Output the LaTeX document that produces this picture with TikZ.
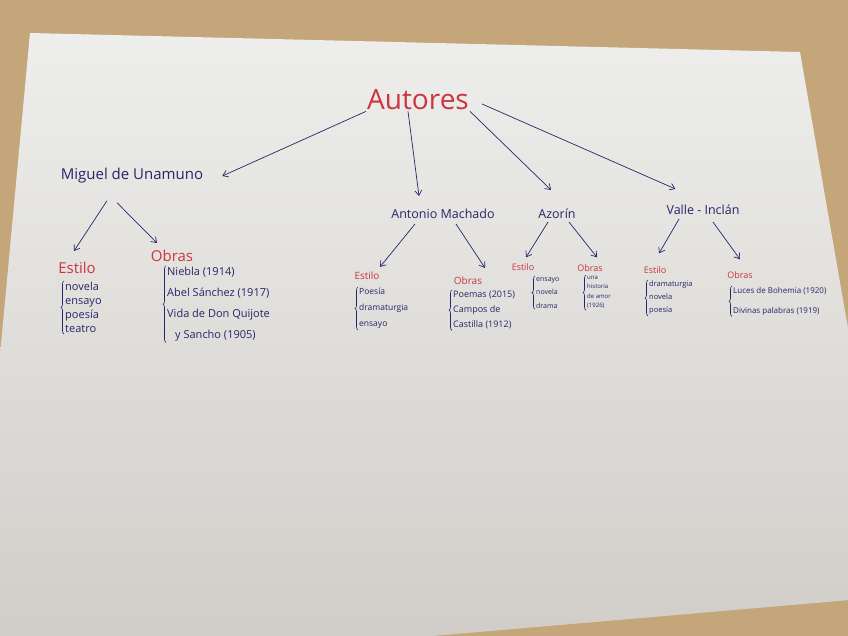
\documentclass[tikz,border=0pt]{standalone}
\usepackage{fontspec}
\setmainfont{Open Sans}
\usetikzlibrary{arrows.meta,decorations.pathreplacing}
\definecolor{tinta}{RGB}{42,36,105}
\definecolor{roja}{RGB}{204,52,64}
\definecolor{papel}{RGB}{238,238,236}
\definecolor{papelb}{RGB}{208,205,200}
\definecolor{madera}{RGB}{196,166,122}
\tikzset{
  autor/.style={text=tinta, inner sep=1pt},
  rama/.style={text=roja, inner sep=1pt, font=\fontsize{10}{11}\selectfont},
  lista/.style={text=tinta, align=left, anchor=north west, inner sep=1pt},
  flecha/.style={draw=tinta, line width=0.7pt, -{Straight Barb[length=5pt,width=7pt]}},
  llave/.style={draw=tinta, line width=0.6pt, decorate, decoration={brace,amplitude=3pt}},
}

\begin{document}
\begin{tikzpicture}[x=1pt,y=-1pt]
  \useasboundingbox (0,0) rectangle (848,636);
  % mesa y hoja
  \fill[madera] (0,0) rectangle (848,636);
  \shade[top color=papel, bottom color=papelb] (30,33) -- (800,52) -- (850,340) -- (850,600) -- (560,625) -- (270,650) -- (0,650) -- (0,355) -- cycle;

  \node[text=roja, inner sep=1pt, font=\fontsize{28}{30}\selectfont] (aut) at (418,100) {Autores};

  \node[autor, font=\fontsize{15}{16}\selectfont] (una) at (132,176) {Miguel de Unamuno};
  \node[autor, font=\fontsize{12.5}{14}\selectfont] (mac) at (443,214) {Antonio Machado};
  \node[autor, font=\fontsize{12.5}{14}\selectfont] (azo) at (557,214) {Azorín};
  \node[autor, font=\fontsize{12.5}{14}\selectfont] (val) at (703,210) {Valle - Inclán};

  \draw[flecha] (aut.south west) -- ([xshift=18pt]una.east);
  \draw[flecha] ([xshift=-10pt]aut.south) -- ([xshift=-24pt,yshift=12pt]mac.north);
  \draw[flecha] (aut.south east) -- ([xshift=-6pt,yshift=18pt]azo.north);
  \draw[flecha] ([xshift=12pt,yshift=-4pt]aut.east) -- ([xshift=10pt,yshift=15pt]val.north west);

  % Unamuno
  \node[rama, font=\fontsize{15}{16}\selectfont] (unaE) at (77,268) {Estilo};
  \node[rama, font=\fontsize{15}{16}\selectfont] (unaO) at (172,256) {Obras};
  \draw[flecha] ([xshift=-25pt,yshift=-16pt]una.south) -- ([xshift=-3pt,yshift=10pt]unaE.north);
  \draw[flecha] ([xshift=-15pt,yshift=-18pt]una.south) -- ([xshift=-15pt,yshift=6pt]unaO.north);
  \node[lista, font=\fontsize{11}{14}\selectfont] (unaEl) at (64,281) {novela\\ensayo\\poesía\\teatro};
  \node[lista, font=\fontsize{11}{21}\selectfont] (unaOl) at (166,266) {Niebla (1914)\\Abel Sánchez (1917)\\Vida de Don Quijote\\\hspace{8pt}y Sancho (1905)};
  \draw[llave] (unaEl.south west) -- (unaEl.north west);
  \draw[llave] (unaOl.south west) -- (unaOl.north west);

  % Machado
  \node[rama] (macE) at (367,276) {Estilo};
  \node[rama] (macO) at (468,281) {Obras};
  \draw[flecha] ([xshift=-28pt,yshift=-4pt]mac.south) -- ([xshift=13pt,yshift=4pt]macE.north);
  \draw[flecha] ([xshift=13pt,yshift=-4pt]mac.south) -- ([xshift=17pt,yshift=8pt]macO.north);
  \node[lista, font=\fontsize{8.5}{16}\selectfont] (macEl) at (358,287) {Poesía\\dramaturgia\\ensayo};
  \node[lista, font=\fontsize{9}{15}\selectfont] (macOl) at (452,290) {Poemas (2015)\\Campos de\\Castilla (1912)};
  \draw[llave] (macEl.south west) -- (macEl.north west);
  \draw[llave] (macOl.south west) -- (macOl.north west);

  % Azorin
  \node[rama, font=\fontsize{9}{10}\selectfont] (azoE) at (523,267) {Estilo};
  \node[rama, font=\fontsize{9}{10}\selectfont] (azoO) at (590,268) {Obras};
  \draw[flecha] ([xshift=-9pt,yshift=-2pt]azo.south) -- ([xshift=3pt,yshift=5pt]azoE.north);
  \draw[flecha] ([xshift=12pt,yshift=-2pt]azo.south) -- ([xshift=7pt,yshift=6pt]azoO.north);
  \node[lista, font=\fontsize{7}{13.5}\selectfont] (azoEl) at (535,276) {ensayo\\novela\\drama};
  \node[lista, font=\fontsize{6}{9.5}\selectfont] (azoOl) at (586,275) {una\\historia\\de amor\\(1926)};
  \draw[llave] (azoEl.south west) -- (azoEl.north west);
  \draw[llave] (azoOl.south west) -- (azoOl.north west);

  % Valle-Inclan
  \node[rama, font=\fontsize{9}{10}\selectfont] (valE) at (655,270) {Estilo};
  \node[rama, font=\fontsize{9}{10}\selectfont] (valO) at (740,275) {Obras};
  \draw[flecha] ([xshift=-24pt,yshift=-3pt]val.south) -- ([xshift=4pt,yshift=12pt]valE.north);
  \draw[flecha] ([xshift=10pt,yshift=-6pt]val.south) -- ([yshift=11pt]valO.north);
  \node[lista, font=\fontsize{7.5}{13}\selectfont] (valEl) at (648,280) {dramaturgia\\novela\\poesía};
  \node[lista, font=\fontsize{8}{20}\selectfont] (valOl) at (732,286) {Luces de Bohemia (1920)\\Divinas palabras (1919)};
  \draw[llave] (valEl.south west) -- (valEl.north west);
  \draw[llave] (valOl.south west) -- (valOl.north west);
\end{tikzpicture}
\end{document}
